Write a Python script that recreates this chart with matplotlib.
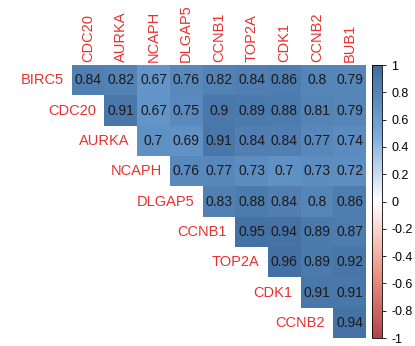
import numpy as np
import matplotlib.pyplot as plt
from matplotlib.colors import LinearSegmentedColormap

plt.rcParams['font.family'] = ['Liberation Sans', 'DejaVu Sans']

row_names = ['BIRC5', 'CDC20', 'AURKA', 'NCAPH', 'DLGAP5', 'CCNB1', 'TOP2A', 'CDK1', 'CCNB2']
col_names = ['CDC20', 'AURKA', 'NCAPH', 'DLGAP5', 'CCNB1', 'TOP2A', 'CDK1', 'CCNB2', 'BUB1']

# upper triangle values, one list per row
r_birc5 = [0.84, 0.82, 0.67, 0.76, 0.82, 0.84, 0.86, 0.8, 0.79]
r_cdc20 = [0.91, 0.67, 0.75, 0.9, 0.89, 0.88, 0.81, 0.79]
r_aurka = [0.7, 0.69, 0.91, 0.84, 0.84, 0.77, 0.74]
r_ncaph = [0.76, 0.77, 0.73, 0.7, 0.73, 0.72]
r_dlgap5 = [0.83, 0.88, 0.84, 0.8, 0.86]
r_ccnb1 = [0.95, 0.94, 0.89, 0.87]
r_top2a = [0.96, 0.89, 0.92]
r_cdk1 = [0.91, 0.91]
r_ccnb2 = [0.94]
rows = [r_birc5, r_cdc20, r_aurka, r_ncaph, r_dlgap5, r_ccnb1, r_top2a, r_cdk1, r_ccnb2]

n = len(row_names)
M = np.full((n, n), np.nan)
for i, vals in enumerate(rows):
    M[i, i:] = vals
Mm = np.ma.masked_invalid(M)

cmap = LinearSegmentedColormap.from_list(
    'corr', ['#B5424A', '#EE9988', '#FFFFFF', '#77AADD', '#3F6C9E'])

fig = plt.figure(figsize=(4.15, 3.46), dpi=100)
ax = fig.add_axes([0.173, 0.023, 0.709, 0.789])
mesh = ax.pcolormesh(np.arange(n + 1), np.arange(n + 1), Mm, cmap=cmap,
                     vmin=-1, vmax=1)
ax.set_xlim(0, n)
ax.set_ylim(n, 0)
ax.axis('off')

red = '#E8312F'
for i in range(n):
    for j in range(i, n):
        ax.text(j + 0.5, i + 0.5, f'{M[i, j]:g}', ha='center', va='center',
                fontsize=10, color='#1a1a1a')
    ax.text(i - 0.25, i + 0.5, row_names[i], ha='right', va='center',
            fontsize=10.5, color=red)
for j, name in enumerate(col_names):
    ax.text(j + 0.5, -0.1, name, ha='center', va='bottom', rotation=90,
            fontsize=10.5, color=red)

cax = fig.add_axes([0.897, 0.023, 0.024, 0.789])
cb = fig.colorbar(mesh, cax=cax, ticks=np.arange(-1, 1.01, 0.2))
cb.ax.set_yticklabels(['-1', '-0.8', '-0.6', '-0.4', '-0.2', '0', '0.2', '0.4', '0.6', '0.8', '1'])
cb.ax.tick_params(labelsize=9, length=3, width=0.6)
cb.outline.set_linewidth(0.6)

fig.savefig('out.png', dpi=100)
